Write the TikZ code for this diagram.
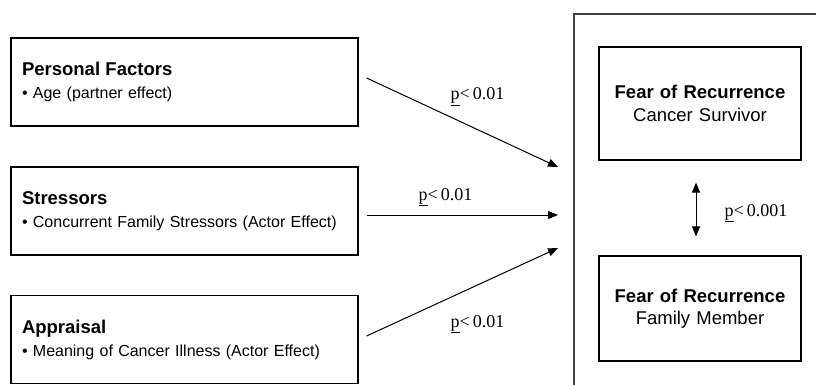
\documentclass[tikz,border=0pt]{standalone}
\usepackage{fontspec}
\setmainfont{Liberation Sans}
\newfontfamily\pfont{Liberation Serif}
\usetikzlibrary{
    arrows.meta
}
\newcommand{\headfont}{\bfseries\fontsize{18.5}{23}\selectfont}
\newcommand{\bodyfont}{\normalfont\fontsize{16}{23}\selectfont}
\newcommand{\rightfont}{\normalfont\fontsize{18.5}{23}\selectfont}
\tikzset {
    factor/.style = {draw, line width = 1.2pt, text width = 325pt, align = left,
        inner xsep = 11pt, inner ysep = 0pt, minimum height = 88pt,
        font = \fontsize{16}{23}\selectfont},
    fear/.style = {draw, line width = 1.2pt, text width = 202pt, align = center,
        inner sep = 0pt, font = \fontsize{18.5}{22.5}\selectfont},
    pval/.style = {anchor = base, inner sep = 0pt,
        font = \pfont\fontsize{18}{20}\selectfont},
    path arrow/.style = {line width = 1pt,
        arrows = {-Triangle[length = 10pt, width = 8pt]}},
    both arrow/.style = {line width = 1pt,
        arrows = {Triangle[length = 10pt, width = 8pt]-Triangle[length = 10pt, width = 8pt]}}
}
\begin{document}
\begin{tikzpicture}[x = 1pt, y = -1pt]
    \useasboundingbox (0, 0) rectangle (816, 385);
    \clip (0, 0) rectangle (816, 385);
    % predictors
    \node (pf) [factor] at (184.5, 82) {\headfont Personal Factors\\ \bodyfont • Age (partner effect)};
    \node (st) [factor] at (184.5, 211) {\headfont Stressors\\ \bodyfont • Concurrent Family Stressors (Actor Effect)};
    \node (ap) [factor] at (184.5, 339.5) {\headfont Appraisal\\ \bodyfont • Meaning of Cancer Illness (Actor Effect)};
    % outcome
    \draw [line width = 1.2pt, black!75] (574, 14) rectangle (840, 420);
    \node (cs) [fear, minimum height = 113pt] at (700, 103.5) {\headfont Fear of Recurrence\\ \rightfont Cancer Survivor};
    \node (fm) [fear, minimum height = 105pt] at (700, 308.5) {\headfont Fear of Recurrence\\ \rightfont Family Member};
    \coordinate (t1) at (558, 167);
    \coordinate (t2) at (558, 215);
    \coordinate (t3) at (558, 248);
    \draw [path arrow] ([shift = {(8, -4)}]pf.east) -- (t1);
    \draw [path arrow] ([shift = {(8, 4)}]st.east) -- (t2);
    \draw [path arrow] ([shift = {(8, -3.5)}]ap.east) -- (t3);
    \draw [both arrow, shorten < = 22pt, shorten > = 19pt] ([xshift = -4]cs.south) -- ([xshift = -4]fm.north);
    \node (p1) [pval] at (477.5, 100) {\underline{p}<\,0.01};
    \node (p2) [pval] at (445.5, 200) {\underline{p}<\,0.01};
    \node (p3) [pval] at (477.5, 327) {\underline{p}<\,0.01};
    \node (p4) [pval] at (756, 216) {\underline{p}<\,0.001};
\end{tikzpicture}
\end{document}
